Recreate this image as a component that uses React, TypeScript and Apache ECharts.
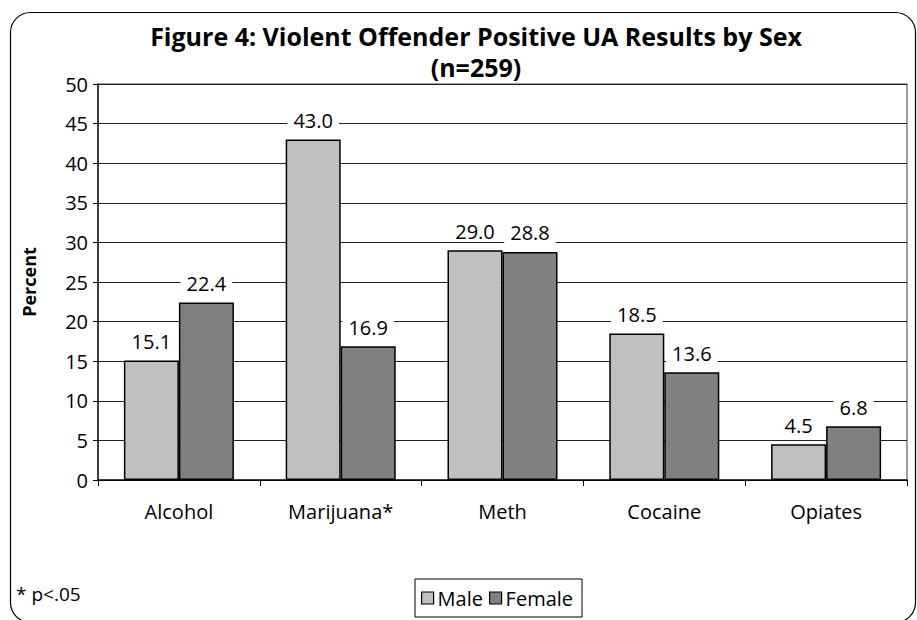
import React, { useEffect, useRef } from "react";
import * as echarts from "echarts";

const categories = ["Alcohol", "Marijuana*", "Meth", "Cocaine", "Opiates"];
const maleValues = [15.1, 43.0, 29.0, 18.5, 4.5];
const femaleValues = [22.4, 16.9, 28.8, 13.6, 6.8];
const seriesNames = ["Male", "Female"];

const FONT = "'Open Sans', 'DejaVu Sans', sans-serif";

export default function App() {
  const ref = useRef<HTMLDivElement>(null);
  useEffect(() => {
    const chart = echarts.init(ref.current!, null, { renderer: "svg" });
    const label = {
      show: true,
      position: "top",
      distance: 9,
      fontFamily: FONT,
      fontSize: 20,
      color: "#000",
      backgroundColor: "#fff",
      padding: [0, 6],
      formatter: (p: any) => Number(p.value).toFixed(1),
    };
    chart.setOption({
      animation: false,
      backgroundColor: "#fff",
      title: {
        text: "Figure 4: Violent Offender Positive UA Results by Sex\n(n=259)",
        left: 476,
        top: 20,
        padding: 0,
        textAlign: "center",
        textStyle: { fontFamily: FONT, fontSize: 25, fontWeight: "bold", color: "#000", lineHeight: 31 },
      },
      legend: {
        data: seriesNames,
        left: 415,
        top: 579,
        padding: [9, 9, 9, 6],
        itemGap: 6,
        itemWidth: 12,
        itemHeight: 12,
        borderColor: "#000",
        borderWidth: 1,
        icon: "rect",
        itemStyle: { borderColor: "#000", borderWidth: 1.2 },
        textStyle: { fontFamily: FONT, fontSize: 20, color: "#000", padding: [0, 0, 0, -1] },
      },
      grid: { left: 98, right: 10, top: 84, bottom: 140 },
      xAxis: {
        type: "category",
        data: categories,
        axisLine: { show: true, lineStyle: { color: "#000", width: 1.5 } },
        axisTick: { show: true, length: 6, inside: false, lineStyle: { color: "#000" } },
        axisLabel: { fontFamily: FONT, fontSize: 20, color: "#000", margin: 21 },
      },
      yAxis: {
        type: "value",
        min: 0,
        max: 50,
        interval: 5,
        name: "Percent",
        nameLocation: "middle",
        nameGap: 60,
        nameTextStyle: { fontFamily: FONT, fontSize: 18, fontWeight: "bold", color: "#000" },
        axisLine: { show: true, lineStyle: { color: "#000", width: 1.5 } },
        axisTick: { show: true, length: 5, lineStyle: { color: "#000" } },
        axisLabel: { fontFamily: FONT, fontSize: 20, color: "#000", margin: 10 },
        splitLine: { show: true, lineStyle: { color: "#222", width: 1 } },
      },
      graphic: [
        {
          type: "rect",
          shape: { x: 10.5, y: 12.5, width: 905, height: 610, r: 20 },
          style: { fill: "none", stroke: "#000", lineWidth: 1.2 },
          silent: true,
        },
        {
          type: "polyline",
          shape: { points: [[98, 84], [907, 84], [907, 480]] },
          style: { stroke: "#808080", lineWidth: 1.5, fill: "none" },
          silent: true,
        },
        {
          type: "text",
          left: 16,
          top: 584,
          style: { text: "* p<.05", fontFamily: FONT, fontSize: 19, fill: "#000" },
        },
      ],
      series: [
        {
          name: seriesNames[0],
          type: "bar",
          data: maleValues,
          barGap: "0%",
          barCategoryGap: "32%",
          itemStyle: { color: "#c0c0c0", borderColor: "#000", borderWidth: 1.5 },
          label,
        },
        {
          name: seriesNames[1],
          type: "bar",
          data: femaleValues,
          itemStyle: { color: "#808080", borderColor: "#000", borderWidth: 1.5 },
          label,
        },
      ],
    });
    return () => chart.dispose();
  }, []);
  return <div ref={ref} style={{ width: 917, height: 620, position: "absolute", left: 0, top: 0 }} />;
}
